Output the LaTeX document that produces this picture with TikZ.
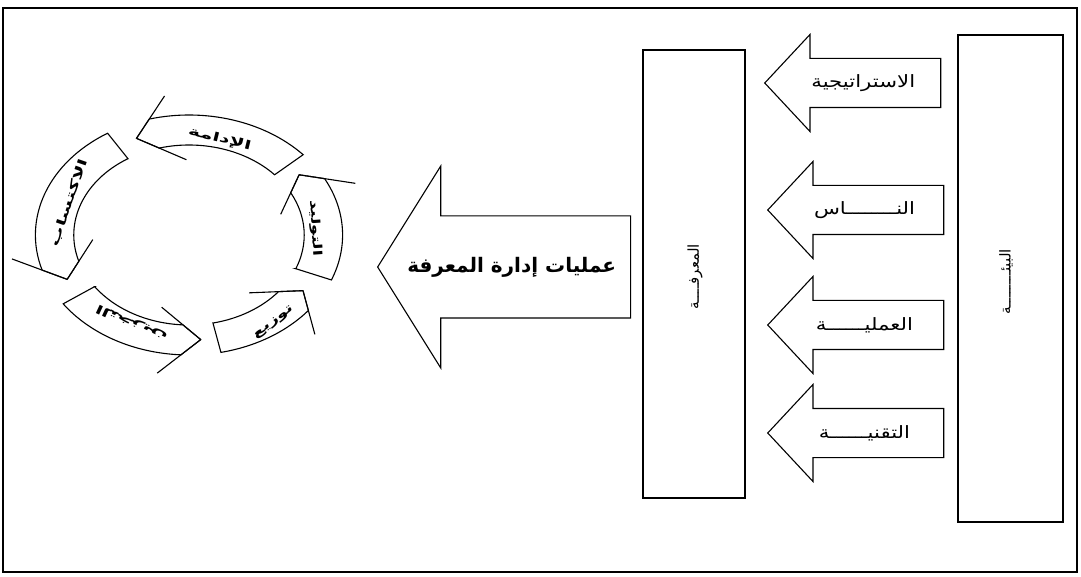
\documentclass[tikz,border=0pt]{standalone}
\usepackage{fontspec}
\usetikzlibrary{shapes.arrows,calc}
\newfontfamily\arabicfont[Script=Arabic]{DejaVu Sans}
\TeXXeTstate=1
\newcommand{\artext}[1]{{\arabicfont\beginR #1\endR}}
\newcommand{\widetext}[2][1.7]{\scalebox{#1}[1]{\artext{#2}}}
\tikzset{
  frame/.style={draw, line width=1.6pt},
  pillar/.style={draw, rectangle, line width=1.4pt, inner sep=0pt},
  sidearrow/.style={single arrow, draw, line width=1.1pt, shape border rotate=180,
    single arrow tip angle=94, single arrow head extend=24pt, inner sep=0pt,
    inner ysep=24pt, minimum width=96pt, minimum height=176pt},
  bigarrow/.style={single arrow, draw, line width=1.1pt, shape border rotate=180,
    single arrow tip angle=116, single arrow head extend=50pt, inner sep=0pt,
    inner ysep=50.5pt, minimum width=202pt, minimum height=253pt},
  band/.style={draw, line width=1.1pt, fill=white},
  arlab/.style={font=\fontsize{17}{20}\selectfont, inner sep=1pt},
  boxlab/.style={font=\fontsize{15}{18}\selectfont, rotate=90, inner sep=1pt},
  biglab/.style={font=\fontsize{20}{24}\selectfont\bfseries, inner sep=1pt},
  bandlab/.style={font=\fontsize{12}{14}\selectfont\bfseries, inner sep=0pt},
}
% one piece of the cycle: name, start angle, end of band, tip angle
\newcommand{\cyclepart}[4]{
  \coordinate (#1-o) at (#3:120);
  \coordinate (#1-i) at (#3:90);
  \coordinate (#1-t) at (#4:105);
  \filldraw[band] (#2:90) -- (#2:120) arc[start angle=#2, end angle=#3, radius=120]
    -- (#1-t) -- (#1-i) arc[start angle=#3, end angle=#2, radius=90] -- cycle;
  \draw[band] (#1-t) -- ($(#1-t)!2.2!(#1-o)$);
  \draw[band] (#1-t) -- ($(#1-t)!2.2!(#1-i)$);
}
\begin{document}
\begin{tikzpicture}[x=1pt,y=1pt]
  \useasboundingbox (0,0) rectangle (1081,576);
  \draw[frame] (3,4) rectangle (1077,568);

  % The two pillars.
  \node[pillar, minimum width=105pt, minimum height=487pt] (env) at (1010.5,297.5) {};
  \node[boxlab] (envlab) at (1006,294) {\artext{البيئــــــــة}};
  \node[pillar, minimum width=102pt, minimum height=448pt] (know) at (694,302) {};
  \node[boxlab] (knowlab) at (695,299) {\artext{المعرفــــة}};

  % Four inputs between the pillars.
  \node[sidearrow, anchor=tip] (strat) at (764,493) {};
  \node[sidearrow, anchor=tip] (people) at (767,366) {};
  \node[sidearrow, anchor=tip] (proc) at (767,251) {};
  \node[sidearrow, anchor=tip] (tech) at (767,143) {};
  \node[arlab] (stratlab) at ($(strat.tip)!0.56!(strat.tail)$) {\widetext[1.25]{الاستراتيجية}};
  \node[arlab] (peoplelab) at ($(people.tip)!0.55!(people.tail)$) {\widetext[1.25]{النــــــــاس}};
  \node[arlab] (proclab) at ($(proc.tip)!0.55!(proc.tail)$) {\widetext[1.25]{العمليــــــة}};
  \node[arlab] (techlab) at ($(tech.tip)!0.55!(tech.tail)$) {\widetext[1.25]{التقنيــــــة}};

  % Knowledge management processes.
  \node[bigarrow, anchor=tip] (kmp) at (377,309) {};
  \node[biglab] (kmplab) at ($(kmp.tip)!0.53!(kmp.tail)$) {\artext{عمليات إدارة المعرفة}};

  % The cycle.
  \begin{scope}[shift={(189,341)}, xscale=1.28]
    \cyclepart{keep}{42}{105}{113}
    \cyclepart{acquire}{122}{197}{205}
    \cyclepart{store}{215}{267}{275}
    \cyclepart{share}{-78}{-39}{-32}
    \cyclepart{generate}{-22}{28}{35}
    \node[bandlab, rotate=-14] (keeplab) at (76:99) {\widetext{الإدامة}};
    \node[bandlab, rotate=71] (acquirelab) at (161:99) {\widetext{الاكتساب}};
    \node[bandlab, rotate=155] (storelab) at (243:99) {\widetext{التخزين}};
    \node[bandlab, rotate=37] (sharelab) at (-53:110) {\widetext[1.5]{توزيع}};
    \node[bandlab, rotate=-86] (generatelab) at (4:99) {\widetext[1.5]{التوليد}};
  \end{scope}
\end{tikzpicture}
\end{document}
